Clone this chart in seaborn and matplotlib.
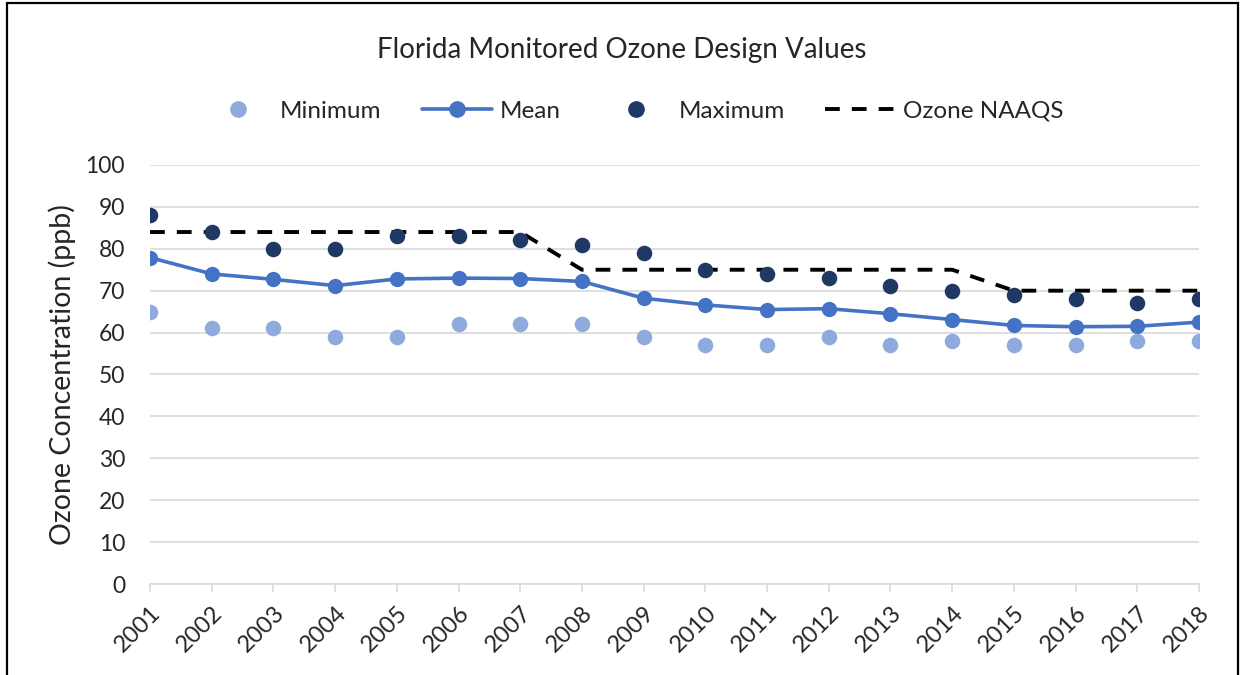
import matplotlib
matplotlib.use("Agg")
import matplotlib.pyplot as plt
import matplotlib.transforms as mtransforms
from matplotlib.lines import Line2D
from matplotlib.patches import Rectangle
import seaborn as sns
import pandas as pd

# values
years = list(range(2001, 2019))
minimum = [65, 61, 61, 59, 59, 62, 62, 62, 59, 57, 57, 59, 57, 58, 57, 57, 58, 58]
mean = [77.9, 74.0, 72.7, 71.2, 72.8, 73.0, 72.9, 72.2, 68.2, 66.6, 65.5, 65.7, 64.5, 63.1, 61.7, 61.4, 61.5, 62.5]
maximum = [88, 84, 80, 80, 83, 83, 82, 81, 79, 75, 74, 73, 71, 70, 69, 68, 67, 68]
naaqs = [84, 84, 84, 84, 84, 84, 84, 75, 75, 75, 75, 75, 75, 75, 70, 70, 70, 70]

c_min = "#8FAADC"
c_mean = "#4472C4"
c_max = "#203864"
dash = (0, (3.8, 3.1))

df = pd.DataFrame({"Year": years, "Minimum": minimum, "Mean": mean,
                   "Maximum": maximum, "Ozone NAAQS": naaqs})

sns.set_style("white")
plt.rcParams["font.family"] = ["Lato", "DejaVu Sans"]

fig = plt.figure(figsize=(12.43, 6.75), dpi=100)
ax = fig.add_axes([0.1207, 0.1348, 0.8439, 0.6208])

sns.lineplot(data=df, x="Year", y="Ozone NAAQS", ax=ax, color="black",
             linewidth=2.8, linestyle=dash, zorder=2)
sns.lineplot(data=df, x="Year", y="Mean", ax=ax, color=c_mean, linewidth=2.6,
             marker="o", markersize=11, markeredgewidth=0, zorder=3)
sns.scatterplot(data=df, x="Year", y="Minimum", ax=ax, color=c_min, s=125,
                linewidth=0, zorder=3)
sns.scatterplot(data=df, x="Year", y="Maximum", ax=ax, color=c_max, s=125,
                linewidth=0, zorder=4)

ax.set_xlim(2001, 2018)
ax.set_ylim(0, 100)
ax.set_yticks(range(0, 101, 10))
ax.set_xticks(years)
ax.set_xticklabels([str(y) for y in years], rotation=45, ha="right",
                   rotation_mode="anchor")
shift = mtransforms.ScaledTranslation(4 / 72, 0, fig.dpi_scale_trans)
for lbl in ax.get_xticklabels():
    lbl.set_transform(lbl.get_transform() + shift)
ax.tick_params(axis="x", labelsize=17, length=6, width=1.2, color="#D9D9D9",
               direction="out", bottom=True, pad=7)
ax.tick_params(axis="y", labelsize=16.5, length=0, pad=18)
ax.grid(axis="y", color="#D9D9D9", linewidth=1.2)
ax.set_axisbelow(True)
for s in ["top", "right", "left"]:
    ax.spines[s].set_visible(False)
ax.spines["bottom"].set_color("#D9D9D9")
ax.spines["bottom"].set_linewidth(1.2)
ax.set_xlabel("")
ax.set_ylabel("Ozone Concentration (ppb)", fontsize=20.5)
ax.yaxis.set_label_coords(-0.0705, 0.5)

fig.text(0.5, 0.926, "Florida Monitored Ozone Design Values", ha="center",
         va="center", fontsize=20)

handles = [
    Line2D([], [], color=c_min, marker="o", linestyle="none", markersize=11),
    Line2D([], [], color=c_mean, marker="o", linewidth=2.6, markersize=11),
    Line2D([], [], color=c_max, marker="o", linestyle="none", markersize=11),
    Line2D([], [], color="black", linewidth=2.8, linestyle=dash),
]
fig.legend(handles, ["Minimum", "Mean", "Maximum", "Ozone NAAQS"],
           loc="center", bbox_to_anchor=(0.509, 0.835), ncol=4, frameon=False,
           fontsize=17.5, handlelength=2.9, columnspacing=1.65, handletextpad=0.3)

# chart border: left, top and right edges (bottom is cropped off)
fig.patches.append(Rectangle((7 / 1243, -0.05), 1231 / 1243, 1.05 - 3 / 675,
                             transform=fig.transFigure, fill=False,
                             edgecolor="black", linewidth=1.6))

fig.savefig("out.png", dpi=100)
